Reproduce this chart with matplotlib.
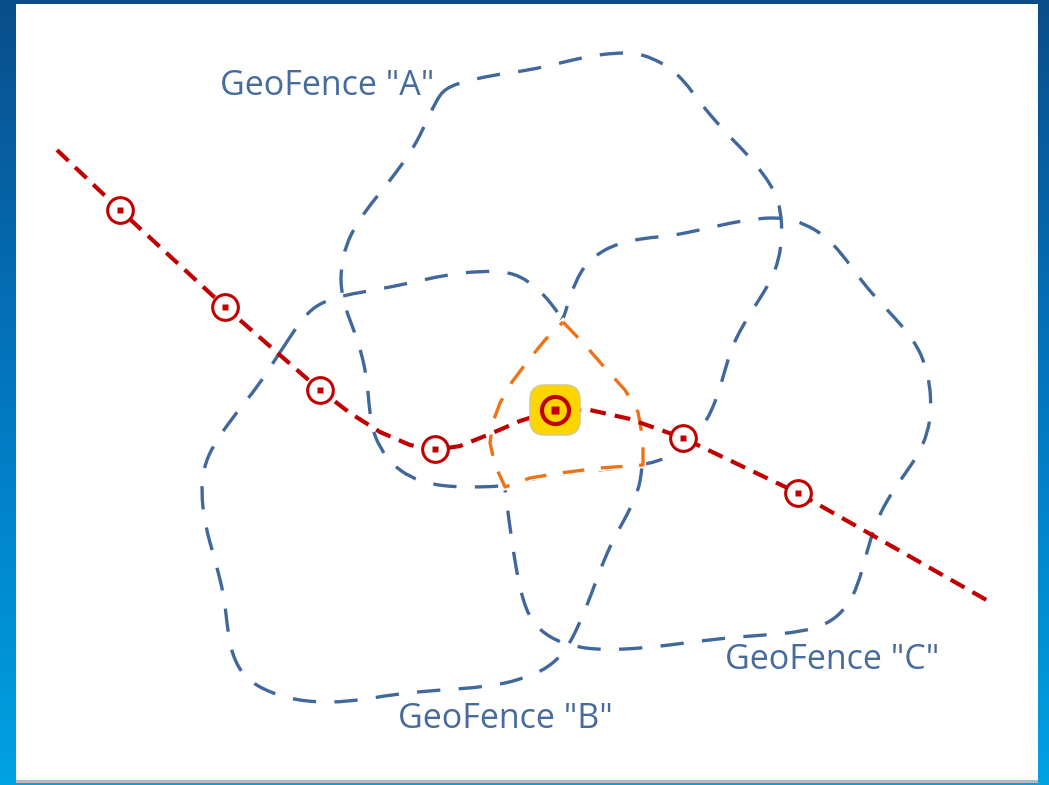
import numpy as np
import matplotlib
matplotlib.use("Agg")
import matplotlib.pyplot as plt
from matplotlib.patches import Rectangle, FancyBboxPatch
from matplotlib.path import Path
from matplotlib.patches import PathPatch
from matplotlib.colors import LinearSegmentedColormap

# ---- data (pixel coordinates) ----
fence_a_x = [445, 470, 500, 530, 560, 590, 615, 635, 652, 670, 685, 698, 712, 728, 745, 762, 775, 781, 782, 779, 770, 757, 743, 732, 725, 717, 706, 692, 672, 645, 610, 575, 540, 505, 480, 455, 430, 410, 393, 380, 372, 369, 367, 362, 355, 346, 341, 341, 346, 356, 370, 388, 403, 415, 425, 435]
fence_a_y = [88, 80, 74, 70, 63, 56, 53, 53, 58, 68, 82, 100, 117, 135, 152, 172, 192, 212, 235, 260, 282, 303, 325, 347, 370, 398, 422, 442, 456, 465, 469, 472, 477, 486, 487, 487, 484, 477, 465, 448, 428, 405, 380, 355, 333, 310, 290, 268, 245, 225, 205, 183, 163, 145, 125, 103]

fence_b_x = [290, 305, 322, 345, 375, 410, 445, 480, 510, 530, 545, 556, 565, 580, 598, 617, 632, 641, 643, 642, 638, 627, 613, 602, 591, 579, 566, 548, 520, 485, 440, 395, 350, 305, 270, 245, 232, 227, 224, 215, 205, 201, 205, 218, 237, 258, 275]
fence_b_y = [337, 315, 302, 295, 290, 283, 275, 271, 272, 282, 296, 310, 323, 340, 360, 380, 400, 425, 450, 470, 492, 515, 540, 565, 595, 625, 650, 668, 680, 687, 690, 694, 702, 702, 693, 678, 655, 625, 595, 560, 525, 490, 462, 438, 412, 386, 360]

fence_c_x = [563, 568, 575, 585, 600, 620, 645, 670, 700, 730, 760, 785, 805, 825, 842, 857, 875, 895, 912, 924, 930, 931, 928, 918, 902, 887, 875, 866, 858, 847, 828, 800, 765, 725, 685, 645, 605, 575, 550, 532, 522, 516, 511, 507, 505, 497, 491, 492, 499, 510, 523, 538, 552]
fence_c_y = [320, 303, 283, 265, 252, 243, 238, 236, 230, 223, 218, 218, 224, 236, 254, 275, 297, 318, 338, 360, 385, 410, 432, 455, 478, 500, 525, 555, 585, 607, 624, 632, 635, 638, 643, 648, 650, 647, 638, 622, 598, 568, 535, 505, 487, 470, 450, 428, 405, 385, 366, 349, 334]

zone_x = [563, 585, 605, 625, 638, 643, 643, 600, 560, 530, 505, 495, 490, 493, 500, 512, 527, 545]
zone_y = [322, 345, 368, 390, 412, 440, 465, 468, 473, 478, 487, 465, 443, 422, 403, 382, 362, 340]

track_x = [57, 120, 225, 320, 350, 380, 410, 435, 460, 490, 520, 555, 590, 630, 683, 798, 990]
track_y = [150, 210, 307, 390, 413, 432, 445, 450, 446, 434, 421, 410, 410, 419, 438, 493, 602]

point_x = [120, 225, 320, 435, 683, 798]
point_y = [210, 307, 390, 449, 438, 493]

current_x = [555]
current_y = [410]

labels = ['GeoFence "A"', 'GeoFence "B"', 'GeoFence "C"']
label_x = [220, 398, 725]
label_y = [86, 719, 660]

# ---- styles ----
W, H = 1049, 785
BLUE = "#41689B"
TEXT = "#466B9C"
ORANGE = "#EE7317"
RED = "#C00000"


def smooth_closed_path(xs, ys):
    pts = np.column_stack([xs, ys]).astype(float)
    n = len(pts)
    mids = (pts + np.roll(pts, -1, axis=0)) / 2.0
    verts = [mids[-1]]
    codes = [Path.MOVETO]
    for i in range(n):
        verts += [pts[i], mids[i]]
        codes += [Path.CURVE3, Path.CURVE3]
    return Path(verts, codes)


fig = plt.figure(figsize=(W / 100, H / 100), dpi=100)
ax = fig.add_axes([0, 0, 1, 1])
ax.set_xlim(0, W)
ax.set_ylim(H, 0)
ax.axis("off")

# background gradient
cmap = LinearSegmentedColormap.from_list("bg", ["#0A4E8B", "#0377C0", "#00A2E2"])
grad = np.linspace(0, 1, 256).reshape(-1, 1)
ax.imshow(grad, cmap=cmap, extent=[0, W, H, 0], aspect="auto", zorder=0)

# white panel with a small grey shadow at the bottom
ax.add_patch(Rectangle((16, 5), 1022, 778, facecolor="#B8B8B8", edgecolor="none", zorder=1))
ax.add_patch(Rectangle((16, 4), 1022, 776, facecolor="white", edgecolor="none", zorder=1.1))

# geofences
for fx, fy in [(fence_a_x, fence_a_y), (fence_b_x, fence_b_y), (fence_c_x, fence_c_y)]:
    pp = PathPatch(smooth_closed_path(fx, fy), facecolor="none", edgecolor=BLUE,
                   lw=2.4, linestyle=(0, (7, 5.5)), capstyle="butt", zorder=2)
    ax.add_patch(pp)

# intersection zone (orange), with white underlay to hide coincident blue edges
zx = zone_x + [zone_x[0]]
zy = zone_y + [zone_y[0]]
ax.plot(zx, zy, color="white", lw=4.5, solid_joinstyle="miter", zorder=3)
ax.plot(zx, zy, color=ORANGE, lw=2.4, linestyle=(0, (6.5, 5)),
        dash_capstyle="butt", solid_joinstyle="miter", zorder=3.1)

# track
ax.plot(track_x, track_y, color=RED, lw=3.0, linestyle=(0, (3.8, 2.2)),
        dash_capstyle="butt", zorder=4)

# track points
ax.plot(point_x, point_y, linestyle="none", marker="o", markersize=18.5,
        markerfacecolor="white", markeredgecolor=RED, markeredgewidth=2.2, zorder=5)
ax.plot(point_x, point_y, linestyle="none", marker="s", markersize=4.6,
        markerfacecolor=RED, markeredgecolor="none", zorder=6)

# current position highlight
for cx, cy in zip(current_x, current_y):
    box = FancyBboxPatch((cx - 23, cy - 23), 46, 46,
                         boxstyle="round,pad=2,rounding_size=15",
                         facecolor="#FFD500", edgecolor="#D8CB86", lw=1.2, zorder=5)
    ax.add_patch(box)
ax.plot(current_x, current_y, linestyle="none", marker="o", markersize=19.5,
        markerfacecolor="none", markeredgecolor=RED, markeredgewidth=3.0, zorder=6)
ax.plot(current_x, current_y, linestyle="none", marker="s", markersize=5.2,
        markerfacecolor=RED, markeredgecolor="none", zorder=6)

# labels
for t, lx, ly in zip(labels, label_x, label_y):
    ax.text(lx, ly, t, color=TEXT, fontsize=24.5, family=["Open Sans", "DejaVu Sans"],
            ha="left", va="center", zorder=7)

fig.savefig("out.png", dpi=100)
